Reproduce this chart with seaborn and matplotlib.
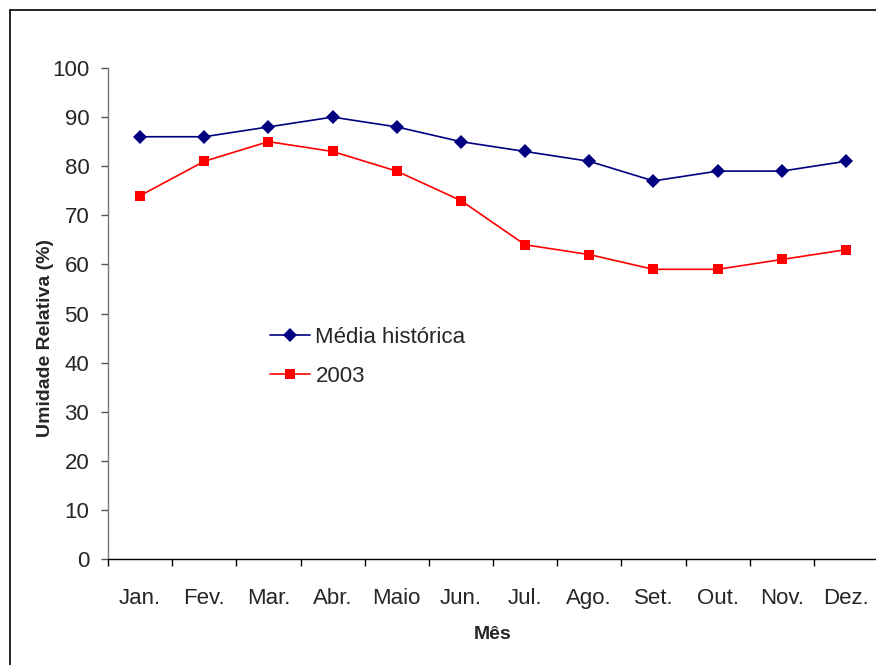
import seaborn as sns
import matplotlib.pyplot as plt
import matplotlib.lines as mlines
import numpy as np
import pandas as pd

# monthly relative humidity, historical mean vs 2003
meses = ['Jan.', 'Fev.', 'Mar.', 'Abr.', 'Maio', 'Jun.', 'Jul.', 'Ago.', 'Set.', 'Out.', 'Nov.', 'Dez.']
media_historica = [86, 86, 88, 90, 88, 85, 83, 81, 77, 79, 79, 81]
ano_2003 = [74, 81, 85, 83, 79, 73, 64, 62, 59, 59, 61, 63]
y_ticks = [0, 10, 20, 30, 40, 50, 60, 70, 80, 90, 100]

df = pd.DataFrame({
    'Mês': meses * 2,
    'Umidade': media_historica + ano_2003,
    'serie': ['Média histórica'] * 12 + ['2003'] * 12,
})

sns.set_style('white')
plt.rcParams['font.family'] = ['Liberation Sans', 'DejaVu Sans']

fig = plt.figure(figsize=(8.76, 6.65), dpi=100)
ax = fig.add_axes([108/876, 1-559/665, (878-108)/876, (559-68)/665])

sns.lineplot(data=df, x='Mês', y='Umidade', hue='serie', style='serie',
             palette={'Média histórica': '#000080', '2003': '#ff0000'},
             markers={'Média histórica': 'D', '2003': 's'},
             dashes=False, markersize=7.5, linewidth=1.2, markeredgewidth=0,
             sort=False, ax=ax)

ax.set_xlim(-0.5, 11.5)
ax.set_ylim(0, 100)
ax.set_yticks(y_ticks)
ax.set_xticks(np.arange(-0.5, 12, 1), minor=True)
ax.tick_params(axis='x', which='major', length=0, pad=21, labelsize=16)
ax.tick_params(axis='x', which='minor', length=5, width=1, direction='out', color='black', bottom=True)
ax.tick_params(axis='y', length=5, width=1, direction='out', color='#555555', left=True, labelsize=16, pad=8.5)

for s in ['top', 'right']:
    ax.spines[s].set_visible(False)
ax.spines['left'].set_color('#777777')
ax.spines['bottom'].set_color('black')
ax.spines['left'].set_linewidth(1)
ax.spines['bottom'].set_linewidth(1)

ax.set_xlabel('Mês', fontsize=14, fontweight='bold', labelpad=12)
ax.set_ylabel('Umidade Relativa (%)', fontsize=14, fontweight='bold')
ax.yaxis.set_label_coords(-0.070, 0.45)

ax.legend(title=None, frameon=False, fontsize=16, loc='upper left',
          bbox_to_anchor=(261/876, 1-318/665), bbox_transform=fig.transFigure,
          handlelength=1.8, handletextpad=0.25, labelspacing=0.8, borderaxespad=0)

# chart frame like the spreadsheet export
fig.add_artist(mlines.Line2D([10/876, 10/876], [0, 1-10/665], color='black', lw=1.2, transform=fig.transFigure))
fig.add_artist(mlines.Line2D([10/876, 1], [1-10/665, 1-10/665], color='black', lw=1.2, transform=fig.transFigure))

plt.savefig('out.png', dpi=100)
